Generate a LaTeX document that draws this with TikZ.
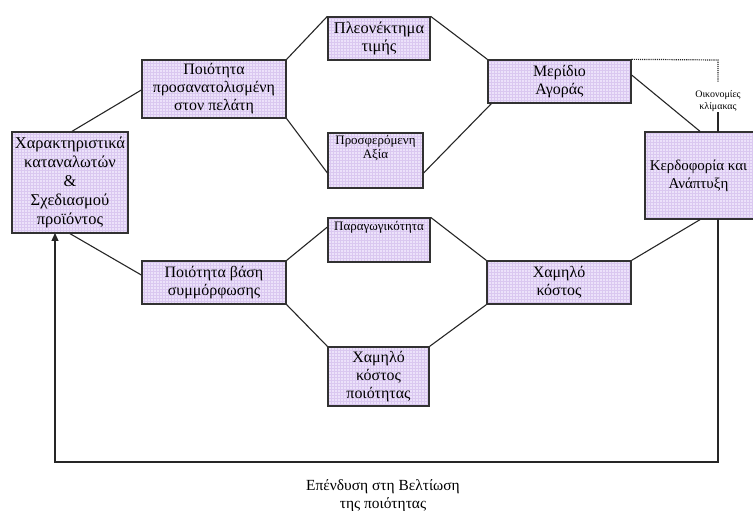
\documentclass[tikz,border=0pt]{standalone}
\usepackage{fontspec}
\setmainfont{Liberation Serif}
\usetikzlibrary{arrows.meta}
\definecolor{boxfill}{RGB}{236,226,250}
\definecolor{gridc}{RGB}{218,200,240}
\definecolor{boxline}{RGB}{50,50,50}
\tikzset{
  box/.style={draw=boxline, line width=1.3bp, fill=boxfill, align=center, inner sep=1bp,
    font=\fontsize{16}{18}\selectfont,
    path picture={\draw[gridc, line width=0.3bp] (path picture bounding box.south west) grid[step=3bp] (path picture bounding box.north east);}},
  conn/.style={draw=black!85, line width=1.1bp},
  lbl/.style={align=center, inner sep=0pt},
}
\begin{document}
\begin{tikzpicture}[x=1bp,y=-1bp]
\useasboundingbox (0,0) rectangle (753,511);
% boxes
\node[box, minimum width=116bp, minimum height=101bp, font=\fontsize{16.5}{19}\selectfont] (A) at (70,182.5) {Χαρακτηριστικά\\καταναλωτών\\\&\\Σχεδιασμού\\προϊόντος};
\node[box, minimum width=144bp, minimum height=58bp] (B) at (214,89) {Ποιότητα\\προσανατολισμένη\\στον πελάτη};
\node[box, minimum width=102bp, minimum height=43bp, font=\fontsize{16.5}{18}\selectfont] (C) at (379,38.5) {Πλεονέκτημα\\τιμής};
\node[box, minimum width=95bp, minimum height=55bp] (D) at (375.5,160.5) {};
\node[lbl, font=\fontsize{13}{14}\selectfont, anchor=north] (Dt) at (375.5,135) {Προσφερόμενη\\Αξία};
\node[box, minimum width=102bp, minimum height=44bp] (E) at (379,240) {};
\node[lbl, font=\fontsize{13}{14}\selectfont, anchor=north] (Et) at (379,221.5) {Παραγωγικότητα};
\node[box, minimum width=143bp, minimum height=43bp] (F) at (559.5,81.5) {Μερίδιο\\Αγοράς};
\begin{scope}
\clip (0,0) rectangle (753,511);
\node[box, minimum width=118bp, minimum height=87bp] (G) at (704,175.5) {};
\end{scope}
\node[lbl, font=\fontsize{15}{18}\selectfont] (Gt) at (698.5,175.5) {Κερδοφορία και\\Ανάπτυξη};
\node[box, minimum width=144bp, minimum height=43bp] (H) at (214,282.5) {Ποιότητα βάση\\συμμόρφωσης};
\node[box, minimum width=144bp, minimum height=43bp] (I) at (559,282.5) {Χαμηλό\\κόστος};
\node[box, minimum width=101bp, minimum height=59bp] (J) at (378.5,376.5) {Χαμηλό\\κόστος\\ποιότητας};
% labels
\node[lbl, font=\fontsize{10}{12.5}\selectfont] (K) at (718,101) {Οικονομίες\\κλίμακας};
\node[lbl, font=\fontsize{15.5}{18}\selectfont] (L) at (383,496) {Επένδυση στη Βελτίωση\\της ποιότητας};
% coordinates
\coordinate (Fcorner) at (718,60);
\coordinate (Kend) at (718,82);
\coordinate (Gtop) at (718,132);
\coordinate (Gbot) at (718,219);
\coordinate (BR) at (718,462);
\coordinate (BL) at (55,462);
\coordinate (Abot) at (55,233);
% connectors
\draw[conn] ([yshift=-1]B.west) -- ([xshift=2]A.north);
\draw[conn] (A.south) -- ([yshift=7.5]H.west);
\draw[conn] (B.north east) -- (C.north west);
\draw[conn] (B.south east) -- ([yshift=-12.5]D.west);
\draw[conn] (C.north east) -- (F.north west);
\draw[conn] ([yshift=-12.5]D.east) -- ([xshift=4]F.south west);
\draw[conn] ([yshift=6.5]F.east) -- ([xshift=-4]G.north);
\draw[conn] (H.north east) -- ([yshift=13]E.west);
\draw[conn] (H.south east) -- (J.north west);
\draw[conn] (E.north east) -- (I.north west);
\draw[conn] (J.north east) -- (I.south west);
\draw[conn] (I.north east) -- ([xshift=-4]G.south);
\draw[conn, densely dotted, line width=1.2bp] (F.north east) -- (Fcorner) -- (Kend);
\draw[conn] (K.south) -- (Gtop);
\draw[conn, -{Triangle[width=7bp,length=8bp]}] (Gbot) -- (BR) -- (BL) -- (Abot);
\end{tikzpicture}
\end{document}
